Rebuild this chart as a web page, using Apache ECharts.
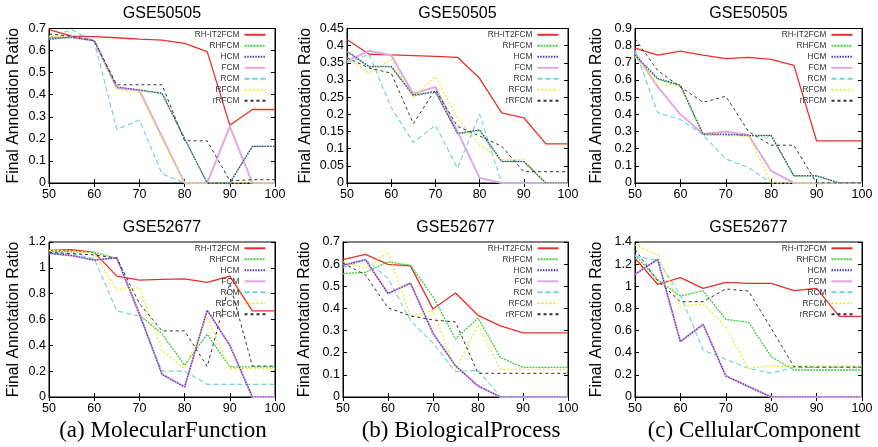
<!DOCTYPE html>
<html>
<head>
<meta charset="utf-8">
<script src="https://cdn.jsdelivr.net/npm/echarts@6/dist/echarts.min.js"></script>
<style>
html,body{margin:0;padding:0;background:#fff;}
#c{width:878px;height:447px;}
</style>
</head>
<body>
<div id="c"></div>
<script>
const seriesNames = ['RH-IT2FCM','RHFCM','HCM','FCM','RCM','RFCM','rRFCM'];
const xValues = [50,55,60,65,70,75,80,85,90,95,100];

// Molecular Function, GSE50505
const mf50505 = [
  [0.695,0.665,0.663,0.658,0.652,0.647,0.633,0.595,0.262,0.333,0.333],
  [0.650,0.660,0.645,0.430,0.420,0.405,0.200,0,0,0.166,0.166],
  [0.655,0.660,0.645,0.435,0.422,0.407,0.202,0,0,0.166,0.166],
  [0.660,0.660,0.645,0.430,0.420,0.210,0,0,0.257,0,0],
  [0.660,0.695,0.640,0.243,0.285,0.042,0,0,0,0,0],
  [0.665,0.660,0.645,0.425,0.410,0.200,0,0,0,0,0],
  [0.675,0.665,0.645,0.445,0.445,0.445,0.191,0.191,0.010,0.015,0.015]
];
// Biological Process, GSE50505
const bp50505 = [
  [0.418,0.375,0.373,0.371,0.369,0.366,0.305,0.204,0.190,0.114,0.114],
  [0.382,0.338,0.338,0.254,0.265,0.143,0.153,0.062,0.062,0,0],
  [0.384,0.340,0.340,0.256,0.267,0.145,0.155,0.063,0.063,0,0],
  [0.355,0.385,0.372,0.260,0.280,0.150,0.015,0,0,0,0],
  [0.350,0.375,0.220,0.118,0.168,0.043,0.200,0,0,0,0],
  [0.365,0.320,0.360,0.250,0.310,0.190,0.110,0.068,0.068,0,0],
  [0.365,0.335,0.320,0.173,0.272,0.165,0.137,0.107,0.033,0.033,0.033]
];
// Cellular Component, GSE50505
const cc50505 = [
  [0.785,0.745,0.768,0.745,0.725,0.732,0.720,0.685,0.245,0.245,0.245],
  [0.740,0.605,0.565,0.280,0.280,0.275,0.275,0.040,0.040,0,0],
  [0.745,0.610,0.570,0.285,0.285,0.278,0.278,0.043,0.043,0,0],
  [0.760,0.560,0.400,0.285,0.300,0.280,0.070,0,0,0,0],
  [0.775,0.410,0.370,0.280,0.140,0.090,0,0,0,0,0],
  [0.735,0.570,0.575,0.290,0.275,0.275,0,0,0,0,0],
  [0.840,0.655,0.560,0.470,0.505,0.300,0.220,0.220,0,0,0]
];
// Molecular Function, GSE52677
const mf52677 = [
  [1.135,1.140,1.120,0.936,0.905,0.910,0.915,0.887,0.936,0.667,0.667],
  [1.130,1.125,1.120,1.075,0.634,0.490,0.246,0.486,0.233,0.233,0.233],
  [1.112,1.095,1.060,1.078,0.645,0.176,0.078,0.672,0.400,0,0],
  [1.112,1.095,1.060,1.078,0.645,0.176,0.078,0.672,0.400,0,0],
  [1.120,1.110,1.070,0.667,0.626,0.200,0.200,0.098,0.098,0.098,0.098],
  [1.135,1.130,1.115,0.828,0.846,0.362,0.220,0.620,0.220,0.220,0.220],
  [1.120,1.110,1.100,1.075,0.724,0.512,0.512,0.236,0.880,0.240,0.240]
];
// Biological Process, GSE52677
const bp52677 = [
  [0.620,0.644,0.599,0.592,0.397,0.470,0.369,0.321,0.290,0.290,0.290],
  [0.557,0.563,0.610,0.595,0.453,0.262,0.357,0.178,0.134,0.134,0.134],
  [0.595,0.620,0.468,0.514,0.288,0.141,0.050,0,0,0,0],
  [0.595,0.620,0.468,0.514,0.288,0.141,0.050,0,0,0,0],
  [0.585,0.620,0.536,0.345,0.243,0.114,0.122,0,0,0,0],
  [0.610,0.581,0.654,0.366,0.390,0.122,0.325,0.125,0.125,0.125,0.125],
  [0.605,0.551,0.403,0.366,0.348,0.339,0.107,0.107,0.107,0.107,0.107]
];
// Cellular Component, GSE52677
const cc52677 = [
  [1.253,1.018,1.078,0.981,1.036,1.027,1.027,0.960,0.981,0.729,0.729],
  [1.283,1.058,0.912,0.960,0.702,0.675,0.364,0.244,0.244,0.244,0.244],
  [1.108,1.243,0.500,0.656,0.190,0.095,0,0,0,0,0],
  [1.108,1.243,0.500,0.656,0.190,0.095,0,0,0,0,0],
  [1.270,1.237,0.921,0.424,0.340,0.259,0.214,0.268,0.268,0.268,0.268],
  [1.373,1.283,0.816,0.840,0.635,0.259,0.280,0.280,0.280,0.280,0.280],
  [1.334,1.050,0.861,0.861,0.976,0.957,0.620,0.274,0.270,0.270,0.270]
];

const panelTitles = ['GSE50505','GSE50505','GSE50505','GSE52677','GSE52677','GSE52677'];
const yMax = [0.7, 0.45, 0.9, 1.2, 0.7, 1.4];
const yStep = [0.1, 0.05, 0.1, 0.2, 0.1, 0.2];
const captions = ['(a) MolecularFunction','(b) BiologicalProcess','(c) CellularComponent'];
const panelData = [mf50505, bp50505, cc50505, mf52677, bp52677, cc52677];

// layout (pixels)
const grids = [
  {left:49, top:28.5, width:226, height:154.5},
  {left:347, top:28.5, width:221, height:154.5},
  {left:635, top:28.5, width:227, height:154.5},
  {left:49, top:242, width:226, height:155},
  {left:343, top:242, width:225, height:155},
  {left:635, top:242, width:227, height:155}
];
const nameGaps = [27, 33, 30, 27, 30, 30];

const styles = [
  {color:'#e8302a', width:1.3, type:'solid', z:2},
  {color:'#3ccf3c', width:1.3, type:[2,1], z:2},
  {color:'#4a3ab8', width:1.2, type:[1.5,1.2], z:3},
  {color:'#e2a8e2', width:2, type:'solid', z:2},
  {color:'#68d6d6', width:1.1, type:[5,3], z:2},
  {color:'#ecec36', width:1.3, type:[2,2], z:2},
  {color:'#333333', width:1, type:[3,3], z:2}
];

const FONT = 'Liberation Sans, Arial, Helvetica, sans-serif';
const W = 878;

const option = {
  animation:false,
  backgroundColor:'#fff',
  grid:[], xAxis:[], yAxis:[], series:[], legend:[], graphic:[]
};

grids.forEach((g, i) => {
  option.grid.push({left:g.left, top:g.top, width:g.width, height:g.height,
    show:true, borderColor:'#000', borderWidth:1, containLabel:false});
  const tick = {show:true, inside:true, length:4, lineStyle:{color:'#000', width:1}};
  const line = {show:true, lineStyle:{color:'#000', width:1}};
  option.xAxis.push({type:'value', gridIndex:i, min:50, max:100, interval:10, position:'bottom',
    axisLine:line, axisTick:tick, splitLine:{show:false},
    axisLabel:{color:'#000', fontSize:12.5, fontFamily:FONT, margin:5}});
  option.xAxis.push({type:'value', gridIndex:i, min:50, max:100, interval:10, position:'top',
    axisLine:line, axisTick:tick, splitLine:{show:false}, axisLabel:{show:false}});
  option.yAxis.push({type:'value', gridIndex:i, min:0, max:yMax[i], interval:yStep[i], position:'left',
    name:'Final Annotation Ratio', nameLocation:'middle', nameGap:nameGaps[i],
    nameTextStyle:{color:'#000', fontSize:15.8, fontFamily:FONT},
    axisLine:line, axisTick:tick, splitLine:{show:false},
    axisLabel:{color:'#000', fontSize:12.5, fontFamily:FONT, margin:3}});
  option.yAxis.push({type:'value', gridIndex:i, min:0, max:yMax[i], interval:yStep[i], position:'right',
    axisLine:line, axisTick:tick, splitLine:{show:false}, axisLabel:{show:false}});

  panelData[i].forEach((vals, s) => {
    option.series.push({
      type:'line', name:seriesNames[s], xAxisIndex:2*i, yAxisIndex:2*i,
      data: xValues.map((x, k) => [x, vals[k]]),
      symbol:'none', silent:true, z:styles[s].z,
      lineStyle:{color:styles[s].color, width:styles[s].width, type:styles[s].type},
      itemStyle:{color:styles[s].color}
    });
  });

  option.legend.push({
    orient:'vertical', align:'right', padding:0,
    right: W - (g.left + g.width - 8.5),
    top: g.top + 0.8,
    itemWidth:21, itemHeight:11.7, itemGap:0,
    selectedMode:false,
    itemStyle:{opacity:0, borderWidth:0},
    textStyle:{fontSize:8.3, color:'#333', fontFamily:FONT, lineHeight:11},
    data: seriesNames
  });

  option.graphic.push({
    type:'text', x: g.left + g.width/2, y: (i < 3 ? 13.8 : 227.5),
    style:{text:panelTitles[i], fill:'#000', fontSize:16, fontFamily:FONT,
      align:'center', verticalAlign:'middle', textAlign:'center', textVerticalAlign:'middle'}
  });
});

[0,1,2].forEach(c => {
  option.graphic.push({
    type:'text', x: [163, 461, 754][c], y: 431,
    style:{text:captions[c], fill:'#000', fontSize:23, fontFamily:'Liberation Serif, Times New Roman, serif',
      align:'center', verticalAlign:'middle', textAlign:'center', textVerticalAlign:'middle'}
  });
});

const chart = echarts.init(document.getElementById('c'), null, {renderer:'canvas'});
chart.setOption(option);
</script>
</body>
</html>
